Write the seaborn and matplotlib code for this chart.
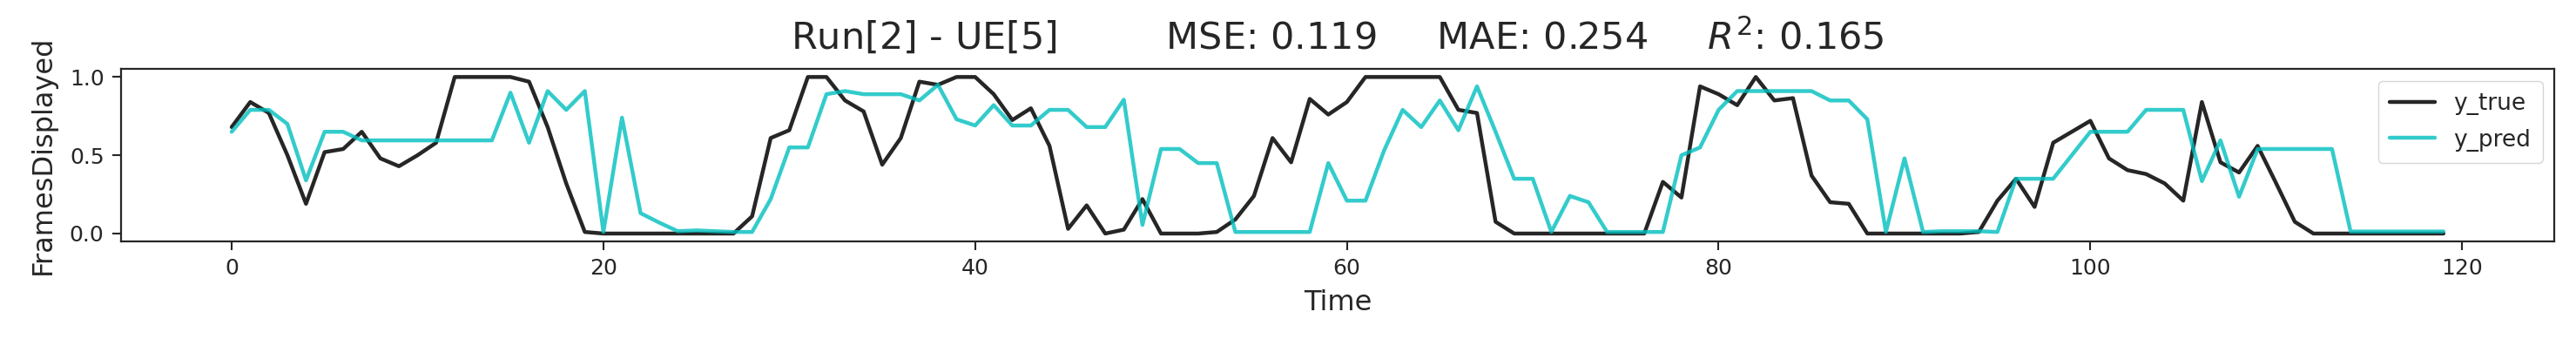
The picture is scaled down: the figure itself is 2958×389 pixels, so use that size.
import numpy as np
import pandas as pd
import matplotlib
matplotlib.use("Agg")
import matplotlib.pyplot as plt
import seaborn as sns

# --- datos ---
time_steps = np.arange(120)

y_true = [
    0.68, 0.84, 0.77, 0.50, 0.19, 0.52, 0.54, 0.65, 0.48, 0.43,
    0.50, 0.58, 1.00, 1.00, 1.00, 1.00, 0.97, 0.68, 0.32, 0.01,
    0.00, 0.00, 0.00, 0.00, 0.00, 0.00, 0.00, 0.00, 0.11, 0.61,
    0.66, 1.00, 1.00, 0.85, 0.78, 0.44, 0.61, 0.97, 0.95, 1.00,
    1.00, 0.89, 0.725, 0.80, 0.56, 0.03, 0.18, 0.00, 0.025, 0.22,
    0.00, 0.00, 0.00, 0.01, 0.09, 0.24, 0.61, 0.455, 0.86, 0.76,
    0.84, 1.00, 1.00, 1.00, 1.00, 1.00, 0.79, 0.77, 0.075, 0.00,
    0.00, 0.00, 0.00, 0.00, 0.00, 0.00, 0.00, 0.33, 0.23, 0.94,
    0.89, 0.82, 1.00, 0.85, 0.865, 0.37, 0.20, 0.19, 0.00, 0.00,
    0.00, 0.00, 0.00, 0.00, 0.01, 0.21, 0.35, 0.17, 0.58, 0.65,
    0.72, 0.48, 0.405, 0.38, 0.32, 0.21, 0.84, 0.455, 0.39, 0.56,
    0.32, 0.075, 0.00, 0.00, 0.00, 0.00, 0.00, 0.00, 0.00, 0.00,
]

y_pred = [
    0.65, 0.79, 0.79, 0.70, 0.34, 0.65, 0.65, 0.595, 0.595, 0.595,
    0.595, 0.595, 0.595, 0.595, 0.595, 0.90, 0.58, 0.91, 0.79, 0.91,
    0.01, 0.74, 0.13, 0.07, 0.015, 0.02, 0.015, 0.01, 0.01, 0.22,
    0.55, 0.55, 0.89, 0.91, 0.89, 0.89, 0.89, 0.85, 0.95, 0.73,
    0.69, 0.82, 0.69, 0.69, 0.79, 0.79, 0.68, 0.68, 0.855, 0.055,
    0.54, 0.54, 0.45, 0.45, 0.01, 0.01, 0.01, 0.01, 0.01, 0.45,
    0.21, 0.21, 0.53, 0.79, 0.68, 0.85, 0.66, 0.94, 0.65, 0.35,
    0.35, 0.01, 0.24, 0.20, 0.01, 0.01, 0.01, 0.01, 0.50, 0.55,
    0.79, 0.91, 0.91, 0.91, 0.91, 0.91, 0.85, 0.85, 0.73, 0.01,
    0.48, 0.01, 0.015, 0.015, 0.015, 0.01, 0.35, 0.35, 0.35, 0.50,
    0.65, 0.65, 0.65, 0.79, 0.79, 0.79, 0.335, 0.595, 0.235, 0.54,
    0.54, 0.54, 0.54, 0.54, 0.013, 0.013, 0.013, 0.013, 0.013, 0.013,
]

run_id, ue_id = 2, 5
mse, mae, r2 = 0.119, 0.254, 0.165

df = pd.DataFrame({"Time": time_steps, "y_true": y_true, "y_pred": y_pred})

# --- estilo ---
sns.set_style("ticks")
plt.rcParams["font.family"] = ["DejaVu Sans"]

fig, ax = plt.subplots(figsize=(29.58, 3.89), dpi=100)
fig.subplots_adjust(left=0.047, right=0.9915, top=0.796, bottom=0.288)

sns.lineplot(data=df, x="Time", y="y_true", color="k", alpha=0.85, linewidth=3.2, label="y_true", ax=ax)
sns.lineplot(data=df, x="Time", y="y_pred", color="c", alpha=0.8, linewidth=3.2, label="y_pred", ax=ax)

ax.set_title(f"Run[{run_id}] - UE[{ue_id}]         MSE: {mse:.3f}     MAE: {mae:.3f}     $R^2$: {r2:.3f}",
             fontsize=31, pad=16)
ax.set_xlabel("Time", fontsize=23, labelpad=8)
ax.set_ylabel("FramesDisplayed", fontsize=23, labelpad=11)
ax.tick_params(labelsize=18, length=7, width=1.5, pad=7)
for s in ax.spines.values():
    s.set_linewidth(1.6)
ax.legend(loc="upper right", fontsize=19, labelspacing=0.6, borderpad=0.5)

fig.savefig("out.png", dpi=100)
